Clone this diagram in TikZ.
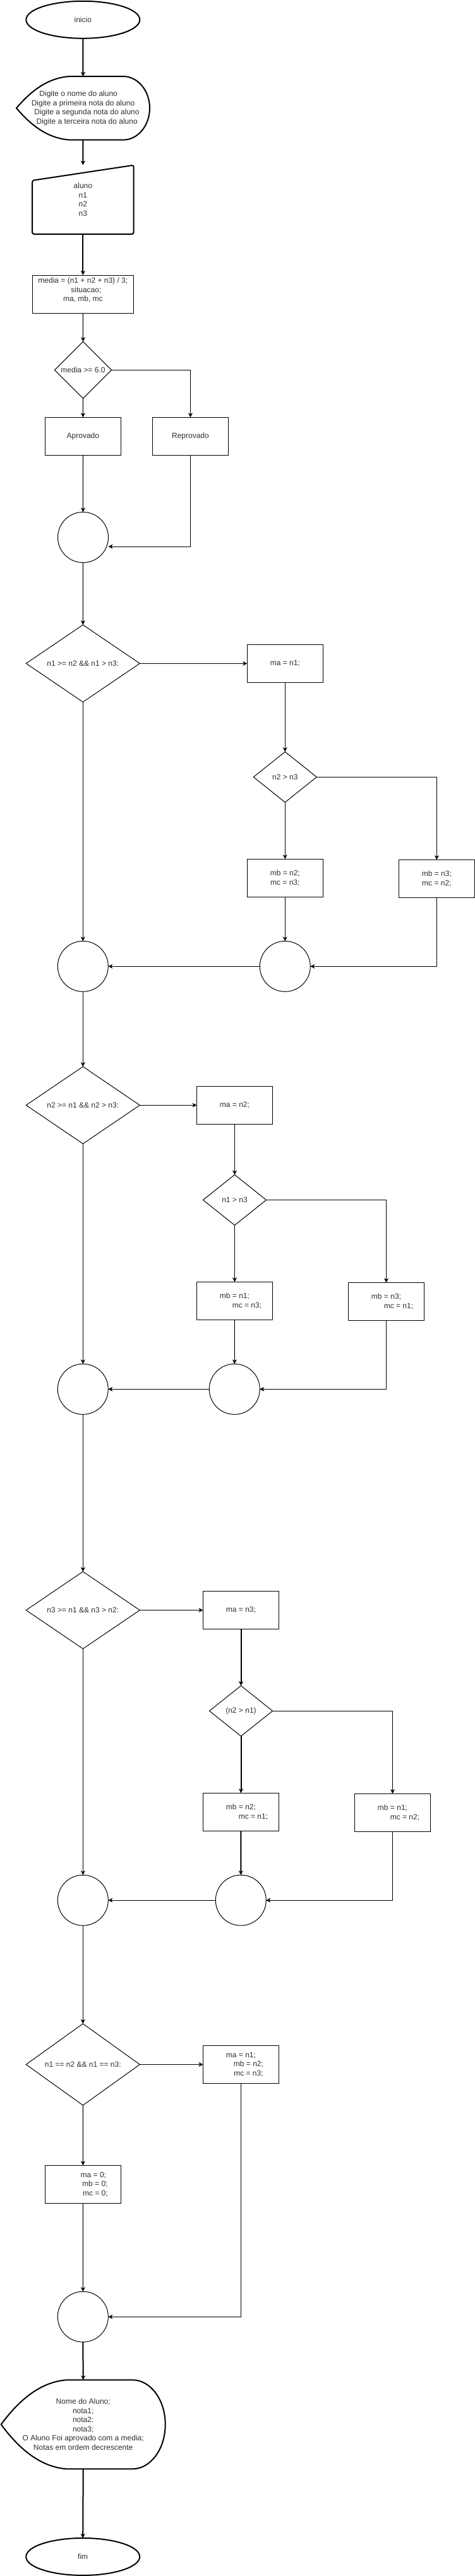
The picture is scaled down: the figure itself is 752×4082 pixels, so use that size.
\documentclass[tikz,border=0pt]{standalone}
\usepackage{fontspec}
\setmainfont{Liberation Sans}
\usetikzlibrary{shapes.geometric,arrows.meta}
\definecolor{txtgray}{HTML}{2E2E2E}
% display (output) shape: x0, y0 (top, y downwards), width, height
\newcommand\dispshape[4]{%
  \draw[boldline] ({#1},{#2+0.5*#4})
    .. controls ({#1+0.12*#3},{#2+0.2*#4}) and ({#1+0.25*#3},{#2+0.02*#4}) .. ({#1+0.4*#3},{#2})
    -- ({#1+0.8*#3},{#2})
    .. controls ({#1+0.9105*#3},{#2}) and ({#1+#3},{#2+0.2239*#4}) .. ({#1+#3},{#2+0.5*#4})
    .. controls ({#1+#3},{#2+0.7761*#4}) and ({#1+0.9105*#3},{#2+#4}) .. ({#1+0.8*#3},{#2+#4})
    -- ({#1+0.4*#3},{#2+#4})
    .. controls ({#1+0.25*#3},{#2+0.98*#4}) and ({#1+0.12*#3},{#2+0.8*#4}) .. ({#1},{#2+0.5*#4})
    -- cycle;}
\begin{document}
\begin{tikzpicture}[x=1pt,y=-1pt,
  every node/.style={font=\fontsize{12}{14.5}\selectfont, text=txtgray, inner sep=0pt, outer sep=0pt, align=center},
  proc/.style={draw, line width=1pt, rectangle, minimum width=120pt, minimum height=60pt},
  decision/.style={draw, line width=1pt, diamond, minimum width=180pt, minimum height=120pt},
  smalldec/.style={decision, minimum width=100pt, minimum height=80pt},
  junction/.style={draw, line width=1pt, circle, minimum size=80pt},
  terminal/.style={draw, line width=2pt, ellipse, minimum width=180pt, minimum height=59pt},
  ghost/.style={rectangle, draw=none},
  boldline/.style={line width=2pt, line join=round},
  conn/.style={line width=1pt, -{Stealth[length=7pt,width=7pt,inset=2pt]}},
  boldconn/.style={conn, line width=2pt},
]
\fill[white] (0,0) rectangle (752,4082);
\useasboundingbox (0,0) rectangle (752,4082);

% ---------- top ----------
\node[terminal] (inicio) at (131.3,31.3) {inicio};
\node[ghost, minimum width=211pt, minimum height=100.7pt] (disp1) at (131.5,171.35)
  {Digite o nome do aluno\hspace*{14.6pt}\\Digite a primeira nota do aluno\\\hspace*{12pt}Digite a segunda nota do aluno\\\hspace*{12.4pt}Digite a terceira nota do aluno};
\dispshape{26}{121}{211}{100.7}
\node[ghost, minimum width=160.7pt, minimum height=109.3pt] (entrada) at (131.35,316.35) {aluno\\n1\\n2\\n3};
\draw[boldline, rounded corners=3pt] (entrada.south west) -- ([yshift=-24.3pt]entrada.north west) -- (entrada.north east) -- (entrada.south east) -- cycle;
\node[proc, minimum width=160.7pt] (media) at (131.35,466) {media = (n1 + n2 + n3) / 3;\\\hspace*{10pt}situacao;\\ma, mb, mc\\\mbox{}};
\node[decision, minimum width=90pt, minimum height=90pt] (dec0) at (131.5,586.3) {media >= 6.0};
\node[proc] (apr) at (131.35,691.3) {Aprovado};
\node[proc] (rep) at (301.5,691.3) {Reprovado};
\node[junction] (c1) at (131.5,851.5) {};

\draw[boldconn] (inicio.south) -- (disp1.north);
\draw[boldconn] (disp1.south) -- (entrada.north);
\draw[boldconn] (entrada.south) -- (media.north);
\draw[conn] (media.south) -- (dec0.north);
\draw[conn] (dec0.south) -- (apr.north);
\draw[conn] (dec0.east) -| (rep.north);
\draw[conn] (apr.south) -- (c1.north);
\draw[conn] (rep.south) |- ([yshift=-14.5pt]c1.east);

% ---------- section 1 ----------
\node[decision] (d1) at (131.3,1051.3) {n1 >= n2 \&\& n1 > n3:};
\node[proc] (ma1) at (451.3,1051.3) {ma = n1;};
\node[smalldec] (d1b) at (451.3,1231.3) {n2 > n3};
\node[proc] (b1a) at (451.3,1391.3) {mb = n2;\\mc = n3;};
\node[proc] (b1b) at (691.4,1392.4) {mb = n3;\\mc = n2;};
\node[junction] (c2) at (131.3,1531.3) {};
\node[junction] (c3) at (451.3,1531.3) {};

\draw[conn] (c1.south) -- (d1.north);
\draw[conn] (d1.east) -- (ma1.west);
\draw[conn] (ma1.south) -- (d1b.north);
\draw[conn] (d1b.south) -- (b1a.north);
\draw[conn] (d1b.east) -| (b1b.north);
\draw[conn] (b1a.south) -- (c3.north);
\draw[conn] (b1b.south) |- (c3.east);
\draw[conn] (c3.west) -- (c2.east);
\draw[conn] (d1.south) -- (c2.north);

% ---------- section 2 ----------
\node[decision] (d2) at (131.3,1751.3) {n2 >= n1 \&\& n2 > n3:};
\node[proc] (ma2) at (371.5,1751.3) {ma = n2;};
\node[smalldec] (d2b) at (371.5,1901.5) {n1 > n3};
\node[proc] (b2a) at (371.5,2061.3) {mb = n1;\\\hspace*{39pt}mc = n3;};
\node[proc] (b2b) at (611.5,2062.5) {mb = n3;\\\hspace*{39pt}mc = n1;};
\node[junction] (c4) at (131.3,2201.3) {};
\node[junction] (c5) at (371.3,2201.3) {};

\draw[conn] (c2.south) -- (d2.north);
\draw[conn] (d2.east) -- (ma2.west);
\draw[conn] (ma2.south) -- (d2b.north);
\draw[conn] (d2b.south) -- (b2a.north);
\draw[conn] (d2b.east) -| (b2b.north);
\draw[conn] (b2a.south) -- (c5.north);
\draw[conn] (b2b.south) |- (c5.east);
\draw[conn] (c5.west) -- (c4.east);
\draw[conn] (d2.south) -- (c4.north);

% ---------- section 3 ----------
\node[decision] (d3) at (131.3,2551.5) {n3 >= n1 \&\& n3 > n2:};
\node[proc] (ma3) at (381.5,2551.5) {ma = n3;};
\node[smalldec] (d3b) at (381.5,2711.2) {(n2 > n1)};
\node[proc] (b3a) at (381.5,2871.3) {mb = n2;\\\hspace*{39pt}mc = n1;};
\node[proc] (b3b) at (621.5,2872.3) {mb = n1;\\\hspace*{39pt}mc = n2;};
\node[junction] (c6) at (131.3,3011.2) {};
\node[junction] (c7) at (381.3,3011.2) {};

\draw[conn] (c4.south) -- (d3.north);
\draw[conn] (d3.east) -- (ma3.west);
\draw[boldconn] (ma3.south) -- (d3b.north);
\draw[boldconn] (d3b.south) -- (b3a.north);
\draw[conn] (d3b.east) -| (b3b.north);
\draw[boldconn] (b3a.south) -- (c7.north);
\draw[conn] (b3b.south) |- (c7.east);
\draw[conn] (c7.west) -- (c6.east);
\draw[conn] (d3.south) -- (c6.north);

% ---------- section 4 ----------
\node[decision] (d4) at (131.3,3271.4) {n1 == n2 \&\& n1 == n3:};
\node[proc] (ma4) at (381.5,3271.4) {ma = n1;\\\hspace*{24pt}mb = n2;\\\hspace*{24pt}mc = n3;};
\node[proc] (zero) at (131.4,3461.3) {\hspace*{33pt}ma = 0;\\\hspace*{38pt}mb = 0;\\\hspace*{39pt}mc = 0;};
\node[junction] (c8) at (131.3,3671.2) {};

\draw[conn] (c6.south) -- (d4.north);
\draw[conn] (d4.east) -- (ma4.west);
\draw[conn] (d4.south) -- (zero.north);
\draw[conn] (zero.south) -- (c8.north);
\draw[conn] (ma4.south) |- (c8.east);

% ---------- end ----------
\node[ghost, minimum width=260pt, minimum height=141pt] (disp2) at (131.7,3841.8)
  {Nome do Aluno;\\nota1;\\nota2:\\nota3;\\O Aluno Foi aprovado com a media;\\Notas em ordem decrescente};
\dispshape{1.7}{3771.3}{260}{141}
\node[terminal] (fim) at (131.2,4051.4) {fim};

\draw[boldconn] (c8.south) -- (disp2.north);
\draw[boldconn] (disp2.south) -- (fim.north);
\end{tikzpicture}
\end{document}
